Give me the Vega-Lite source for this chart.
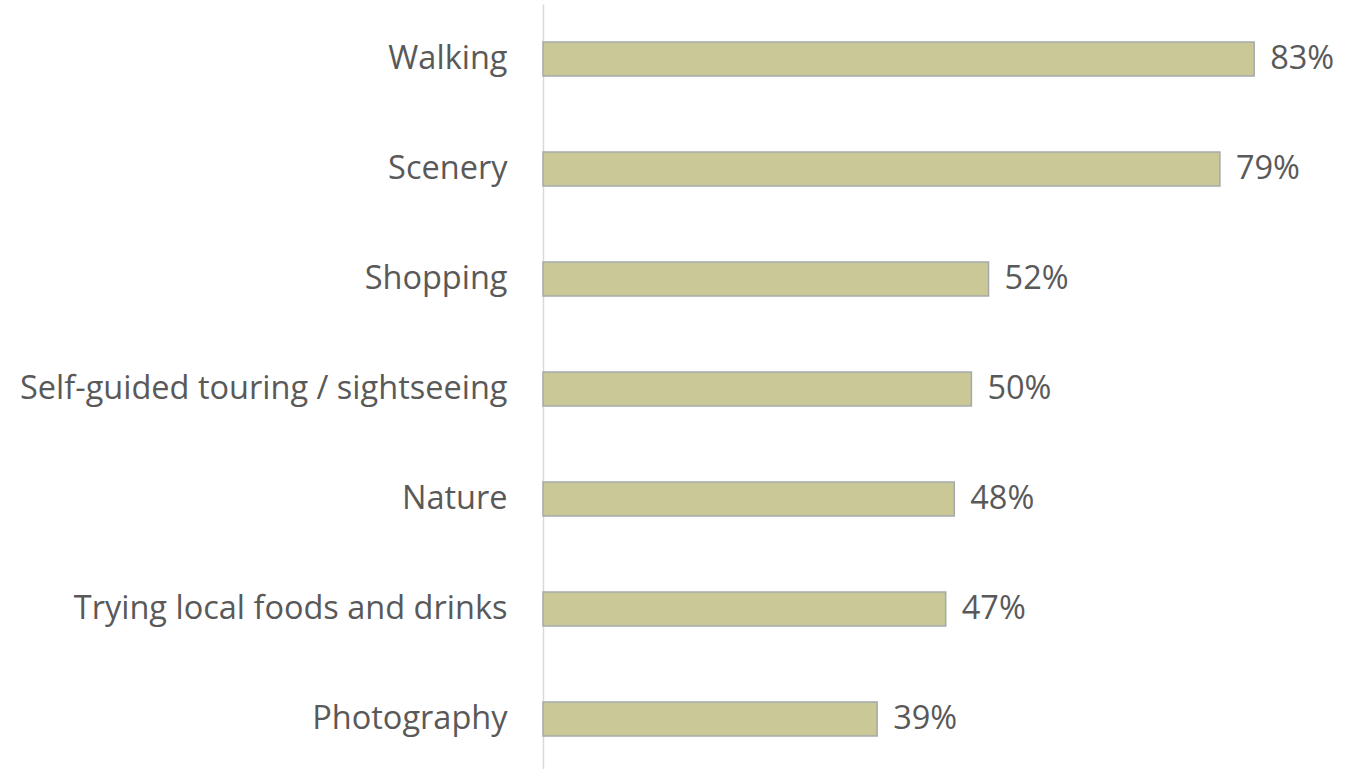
{
  "$schema": "https://vega.github.io/schema/vega-lite/v6.json",
  "autosize": {"type": "none"},
  "width": 814,
  "height": 770,
  "padding": {"left": 543, "top": 4, "right": 1, "bottom": 0},
  "background": "white",
  "config": {"view": {"stroke": null}, "font": "Open Sans"},
  "data": {
    "values": [
      {"activity": "Walking", "pct": 83, "label": "83%"},
      {"activity": "Scenery", "pct": 79, "label": "79%"},
      {"activity": "Shopping", "pct": 52, "label": "52%"},
      {"activity": "Self-guided touring / sightseeing", "pct": 50, "label": "50%"},
      {"activity": "Nature", "pct": 48, "label": "48%"},
      {"activity": "Trying local foods and drinks", "pct": 47, "label": "47%"},
      {"activity": "Photography", "pct": 39, "label": "39%"}
    ]
  },
  "encoding": {
    "y": {
      "field": "activity",
      "type": "nominal",
      "sort": null,
      "scale": {"paddingInner": 0.69, "paddingOuter": 0.345},
      "axis": {
        "title": null,
        "ticks": false,
        "domainColor": "#D9D9D9",
        "domainWidth": 1.5,
        "labelFontSize": 32.5,
        "labelColor": "#595959",
        "labelPadding": 36,
        "labelFont": "Open Sans",
        "labelLimit": 700
      }
    },
    "x": {
      "field": "pct",
      "type": "quantitative",
      "scale": {"domain": [0, 95]},
      "axis": null
    }
  },
  "layer": [
    {
      "mark": {"type": "bar", "fill": "#C9C896", "stroke": "#A5A9AE", "strokeWidth": 1.5}
    },
    {
      "mark": {"type": "text", "align": "left", "baseline": "middle", "dx": 16, "fontSize": 32.5, "color": "#595959", "font": "Open Sans"},
      "encoding": {"text": {"field": "label", "type": "nominal"}}
    }
  ]
}
